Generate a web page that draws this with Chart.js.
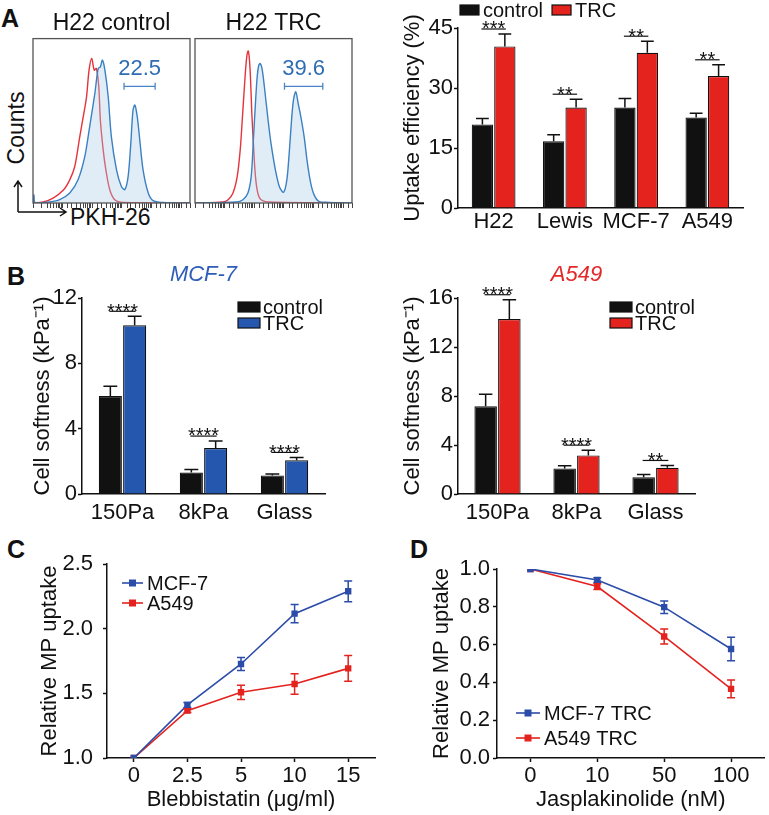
<!DOCTYPE html>
<html>
<head>
<meta charset="utf-8">
<script src="https://cdn.jsdelivr.net/npm/chart.js@4.4.0/dist/chart.umd.min.js"></script>
<style>
  body { margin: 0; background: #fff; }
  #fig { position: relative; width: 769px; height: 815px; overflow: hidden;
         font-family: "Liberation Sans", Arial, sans-serif; color: #111; }
  #fig canvas { position: absolute; }
  .lab { position: absolute; font-weight: bold; font-size: 25px; line-height: 25px; }
  .txt { position: absolute; font-size: 23px; line-height: 26px; white-space: nowrap; }
</style>
</head>
<body>
<div id="fig">
  <div class="lab" style="left:1px;top:6px">A</div>
  <div class="lab" style="left:7px;top:264px">B</div>
  <div class="lab" style="left:7px;top:537px">C</div>
  <div class="lab" style="left:410px;top:537px">D</div>

  <div class="txt" style="left:-34px;top:115px;width:100px;text-align:center;transform:rotate(-90deg)">Counts</div>
  <div class="txt" style="left:70px;top:204px">PKH-26</div>
  <svg width="769" height="815" style="position:absolute;left:0;top:0">
    <g stroke="#111" stroke-width="1.5" fill="none">
      <path d="M18 212 V181 M14 187 L18 181 L22 187"/>
      <path d="M18 212 H66 M60 208 L66 212 L60 216"/>
    </g>
  </svg>

  <canvas id="histCtrl" width="159" height="211" style="left:32px;top:0px"></canvas>
  <canvas id="histTrc" width="159" height="211" style="left:194px;top:0px"></canvas>
  <canvas id="chartUptake" width="369" height="240" style="left:400px;top:0px"></canvas>
  <canvas id="chartMcf" width="380" height="280" style="left:0px;top:250px"></canvas>
  <canvas id="chartA549" width="379" height="280" style="left:390px;top:250px"></canvas>
  <canvas id="chartBleb" width="385" height="285" style="left:0px;top:530px"></canvas>
  <canvas id="chartJasp" width="384" height="285" style="left:385px;top:530px"></canvas>
</div>

<script>
// ---- A: flow histograms (x = position across the box, y = % of box height)
const h22CtrlRedX = [0, 6.5, 12.8, 19.2, 23.4, 26.6, 29.8, 32.0, 34.1, 35.7, 37.4, 39.0, 40.4, 41.9, 42.9, 44.7, 46.4, 48.9, 52.1, 57.4, 100];
const h22CtrlRedY = [0, 0.6, 3.0, 7.7, 14.1, 22.2, 40.4, 52.5, 64.6, 80.8, 87.9, 80.8, 81.8, 70.7, 50.5, 32.3, 20.2, 8.1, 2.0, 0.3, 0];
const h22CtrlBlueX = [0, 0.6, 1.5, 10.7, 17.0, 23.4, 28.7, 33.0, 36.1, 39.4, 41.5, 42.9, 44.2, 45.8, 47.9, 49.9, 53.2, 56.3, 58.5, 60.6, 62.3, 63.7, 64.9, 66.4, 68.0, 70.1, 73.4, 76.5, 82.9, 100];
const h22CtrlBlueY = [0, 5, 0, 0.6, 2.0, 6.1, 14.1, 28.3, 46.5, 66.7, 81.8, 82.8, 86.9, 80.8, 64.6, 40.4, 20.2, 10.1, 8.1, 16.2, 36.4, 56.6, 59.6, 52.5, 38.4, 20.2, 6.1, 1.4, 0.3, 0];
const h22TrcRedX = [0, 17.9, 21.1, 24.2, 26.9, 28.8, 30.1, 31.2, 32.2, 33.1, 33.9, 34.7, 35.4, 36.2, 37.3, 38.5, 40.0, 42.1, 47.4, 100];
const h22TrcRedY = [0, 0.6, 2.0, 6.1, 16.2, 32.3, 50.5, 66.7, 80.8, 89.9, 92.5, 86.9, 74.7, 54.5, 34.3, 16.2, 6.1, 2.0, 0.6, 0];
const h22TrcBlueX = [0, 26.3, 30.5, 33.7, 35.8, 37.3, 38.5, 39.6, 40.6, 41.5, 42.7, 44.2, 46.3, 48.4, 51.2, 53.7, 56.4, 58.5, 60.0, 61.5, 62.7, 64.2, 65.7, 67.4, 69.5, 71.6, 73.7, 75.8, 78.9, 85.3, 100];
const h22TrcBlueY = [0, 0.6, 2.0, 6.1, 16.2, 40.4, 60.6, 76.8, 83.8, 84.8, 81.8, 70.7, 52.5, 36.4, 20.2, 10.1, 6.5, 14.1, 30.3, 50.5, 62.6, 67.7, 60.6, 52.5, 40.4, 24.2, 12.1, 5.1, 1.0, 0.4, 0];
const gateCtrl = [58.0, 77.8];
const gateTrc = [57.0, 81.4];
const gateLevel = 71;
const gatePct = ['22.5', '39.6'];

// ---- A: uptake efficiency bars
const cellLines = ['H22', 'Lewis', 'MCF-7', 'A549'];
const uptakeCtrl = [20.9, 16.7, 25.1, 22.6];
const uptakeCtrlErr = [1.5, 1.6, 2.3, 1.1];
const uptakeTrc = [40.4, 25.1, 38.8, 33.0];
const uptakeTrcErr = [3.1, 2.1, 2.9, 2.8];
const uptakeSig = ['***', '**', '**', '**'];

// ---- B: cell softness
const substrates = ['150Pa', '8kPa', 'Glass'];
const mcfCtrl = [6.0, 1.32, 1.14];
const mcfCtrlErr = [0.6, 0.18, 0.08];
const mcfTrc = [10.33, 2.81, 2.06];
const mcfTrcErr = [0.55, 0.43, 0.18];
const mcfSig = ['****', '****', '****'];
const a549Ctrl = [7.16, 2.09, 1.36];
const a549CtrlErr = [0.98, 0.21, 0.24];
const a549Trc = [14.29, 3.15, 2.14];
const a549TrcErr = [1.57, 0.43, 0.19];
const a549Sig = ['****', '****', '**'];

// ---- C: blebbistatin
const blebDose = ['0', '2.5', '5', '10', '15'];
const blebMcf = [1.0, 1.41, 1.727, 2.116, 2.289];
const blebMcfErr = [0, 0.02, 0.05, 0.07, 0.08];
const blebA549 = [1.0, 1.366, 1.508, 1.572, 1.693];
const blebA549Err = [0, 0.015, 0.055, 0.08, 0.1];

// ---- D: jasplakinolide
const jaspDose = ['0', '10', '50', '100'];
const jaspMcf = [1.0, 0.942, 0.798, 0.577];
const jaspMcfErr = [0, 0.012, 0.033, 0.062];
const jaspA549 = [1.0, 0.907, 0.643, 0.366];
const jaspA549Err = [0, 0.015, 0.04, 0.047];

const FONT = '"Liberation Sans", Arial, sans-serif';
const INK = '#111';
const RED = '#E4221E';
const BLUE = '#2657AE';
const LBLUE = '#2B4CA8';

Chart.defaults.font.family = FONT;
Chart.defaults.color = INK;
Chart.defaults.animation = false;
Chart.defaults.plugins.legend.display = false;
Chart.defaults.plugins.tooltip.enabled = false;

const pts = (xs, ys) => xs.map((x, i) => ({ x: x, y: ys[i] }));

// box round the histogram area
const frame = {
  id: 'frame',
  afterDraw(chart) {
    const a = chart.chartArea, ctx = chart.ctx;
    ctx.save();
    ctx.strokeStyle = '#555';
    ctx.lineWidth = 1.3;
    ctx.strokeRect(a.left, a.top, a.width, a.height);
    ctx.restore();
  }
};

// gate marker with its percentage
const gate = {
  id: 'gate',
  afterDatasetsDraw(chart, args, o) {
    const xs = chart.scales.x, ys = chart.scales.y, ctx = chart.ctx;
    const x0 = xs.getPixelForValue(o.range[0]), x1 = xs.getPixelForValue(o.range[1]);
    const y = ys.getPixelForValue(o.level);
    ctx.save();
    ctx.strokeStyle = '#4A86C5';
    ctx.lineWidth = 1.3;
    ctx.beginPath();
    ctx.moveTo(x0, y); ctx.lineTo(x1, y);
    ctx.moveTo(x0, y - 3.5); ctx.lineTo(x0, y + 3.5);
    ctx.moveTo(x1, y - 3.5); ctx.lineTo(x1, y + 3.5);
    ctx.stroke();
    ctx.fillStyle = '#2F6DB3';
    ctx.font = '22px ' + FONT;
    ctx.textAlign = 'center';
    ctx.textBaseline = 'middle';
    ctx.fillText(o.label, (x0 + x1) / 2, y - 17);
    ctx.restore();
  }
};

// error bars from dataset.errors
const errorBars = {
  id: 'errorBars',
  afterDatasetsDraw(chart, args, o) {
    const ctx = chart.ctx;
    chart.data.datasets.forEach((ds, i) => {
      if (!ds.errors) return;
      const meta = chart.getDatasetMeta(i);
      const ys = chart.scales[meta.yAxisID];
      ctx.save();
      ctx.strokeStyle = o.color || ds.borderColor;
      ctx.lineWidth = 1.5;
      meta.data.forEach((el, j) => {
        const e = ds.errors[j];
        if (!e) return;
        const v = ds.data[j];
        const top = ys.getPixelForValue(v + e);
        const bot = o.both ? ys.getPixelForValue(v - e) : el.y;
        const half = (o.both ? o.cap : el.width * o.capRatio) / 2;
        ctx.beginPath();
        ctx.moveTo(el.x, bot); ctx.lineTo(el.x, top);
        ctx.moveTo(el.x - half, top); ctx.lineTo(el.x + half, top);
        if (o.both) { ctx.moveTo(el.x - half, bot); ctx.lineTo(el.x + half, bot); }
        ctx.stroke();
      });
      ctx.restore();
    });
  }
};

// significance line + stars over each pair of bars
const sigMarks = {
  id: 'sigMarks',
  afterDatasetsDraw(chart, args, o) {
    const ctx = chart.ctx, ys = chart.scales.y;
    const d0 = chart.data.datasets[0], d1 = chart.data.datasets[1];
    const m0 = chart.getDatasetMeta(0), m1 = chart.getDatasetMeta(1);
    ctx.save();
    ctx.strokeStyle = INK;
    ctx.fillStyle = INK;
    ctx.lineWidth = 1.2;
    ctx.font = o.size + 'px ' + FONT;
    ctx.textAlign = 'center';
    ctx.textBaseline = 'alphabetic';
    o.labels.forEach((lab, i) => {
      const top = Math.max(d0.data[i] + d0.errors[i], d1.data[i] + d1.errors[i]);
      const y = ys.getPixelForValue(top) - o.gap;
      const x0 = m0.data[i].x - 1, x1 = m1.data[i].x + 1;
      ctx.beginPath(); ctx.moveTo(x0, y); ctx.lineTo(x1, y); ctx.stroke();
      ctx.fillText(lab, (x0 + x1) / 2, y + o.size * 0.32);
    });
    ctx.restore();
  }
};

// legend drawn at a fixed spot of the canvas
const panelLegend = {
  id: 'panelLegend',
  afterDraw(chart, args, o) {
    const ctx = chart.ctx;
    ctx.save();
    ctx.font = o.size + 'px ' + FONT;
    ctx.textBaseline = 'middle';
    ctx.textAlign = 'left';
    let x = o.x, y = o.y;
    chart.data.datasets.forEach(ds => {
      if (o.kind === 'box') {
        ctx.fillStyle = ds.backgroundColor;
        ctx.fillRect(x, y - o.boxH / 2, o.boxW, o.boxH);
        ctx.strokeStyle = INK; ctx.lineWidth = 1.2;
        ctx.strokeRect(x, y - o.boxH / 2, o.boxW, o.boxH);
      } else {
        ctx.strokeStyle = ds.borderColor; ctx.lineWidth = ds.borderWidth;
        ctx.beginPath(); ctx.moveTo(x, y); ctx.lineTo(x + o.boxW, y); ctx.stroke();
        ctx.fillStyle = ds.backgroundColor;
        ctx.fillRect(x + o.boxW / 2 - o.marker / 2, y - o.marker / 2, o.marker, o.marker);
      }
      ctx.fillStyle = INK;
      ctx.fillText(ds.label, x + o.boxW + o.textGap, y + 1);
      if (o.dir === 'row') x += o.boxW + o.textGap + ctx.measureText(ds.label).width + o.itemGap;
      else y += o.lineGap;
    });
    ctx.restore();
  }
};

function histChart(id, title, red, blue, range, label) {
  return new Chart(document.getElementById(id), {
    type: 'line',
    data: {
      datasets: [
        { label: 'control', data: red, borderColor: '#E5333B', borderWidth: 1.4,
          pointRadius: 0, tension: 0.3, fill: false, order: 1 },
        { label: 'TRC', data: blue, borderColor: '#3B80C2', backgroundColor: 'rgba(165,203,233,0.35)',
          borderWidth: 1.4, pointRadius: 0, tension: 0.3, fill: 'origin', order: 0 }
      ]
    },
    options: {
      responsive: false,
      layout: { padding: { left: 1, right: 1, top: 0, bottom: 0 } },
      scales: {
        x: { type: 'linear', min: 0, max: 100, display: false },
        y: { type: 'linear', min: 0, max: 100, display: false },
        xlog: {
          type: 'logarithmic', position: 'bottom', min: 1, max: 2e5,
          ticks: { display: false },
          grid: { drawOnChartArea: false, tickLength: 5, tickColor: '#444', tickWidth: 1 },
          border: { display: false },
          afterFit: s => { s.height = 8; }
        }
      },
      plugins: {
        title: { display: true, text: title, font: { size: 23, weight: 'normal' }, color: INK,
                 padding: { top: 10, bottom: 1 }, fullSize: false },
        gate: { range: range, level: gateLevel, label: label }
      }
    },
    plugins: [frame, gate]
  });
}

histChart('histCtrl', 'H22 control', pts(h22CtrlRedX, h22CtrlRedY), pts(h22CtrlBlueX, h22CtrlBlueY), gateCtrl, gatePct[0]);
histChart('histTrc', 'H22 TRC', pts(h22TrcRedX, h22TrcRedY), pts(h22TrcBlueX, h22TrcBlueY), gateTrc, gatePct[1]);

function yAxis(min, max, step, title, width, pad, fmt) {
  return {
    min: min, max: max,
    ticks: { stepSize: step, font: { size: 22 }, padding: pad, color: INK,
             callback: fmt || (v => v) },
    grid: { drawOnChartArea: false, tickLength: 4, tickWidth: 1.5, tickColor: INK },
    border: { color: INK, width: 1.5 },
    title: { display: true, text: title, font: { size: 22 }, padding: 0, color: INK },
    afterFit: s => { s.width = width; }
  };
}

function xCat(height, pad, withTicks, title) {
  const ax = {
    ticks: { font: { size: 22 }, padding: pad, color: INK, autoSkip: false, maxRotation: 0 },
    grid: { drawOnChartArea: false, drawTicks: withTicks, tickLength: 4, tickWidth: 1.5,
            tickColor: INK, offset: false },
    border: { color: INK, width: 1.5 },
    afterFit: s => { s.height = height; }
  };
  if (title) ax.title = { display: true, text: title, font: { size: 22 }, padding: { top: 0, bottom: 2 }, color: INK };
  return ax;
}

function barSet(label, data, errors, fill, catPct) {
  return { label: label, data: data, errors: errors, backgroundColor: fill, borderColor: INK,
           borderWidth: 1.2, categoryPercentage: catPct, barPercentage: 0.95 };
}

// A: uptake efficiency
new Chart(document.getElementById('chartUptake'), {
  type: 'bar',
  data: {
    labels: cellLines,
    datasets: [
      barSet('control', uptakeCtrl, uptakeCtrlErr, INK, 0.63),
      barSet('TRC', uptakeTrc, uptakeTrcErr, RED, 0.63)
    ]
  },
  options: {
    responsive: false,
    layout: { padding: { left: 0, right: 26, top: 28, bottom: 0 } },
    scales: {
      x: xCat(32, 1, false),
      y: yAxis(0, 45, 15, 'Uptake efficiency (%)', 58, 1)
    },
    plugins: {
      errorBars: { color: INK, capRatio: 0.6 },
      sigMarks: { labels: uptakeSig, gap: 5, size: 20 },
      panelLegend: { kind: 'box', dir: 'row', x: 60, y: 10, boxW: 19, boxH: 10, textGap: 4, itemGap: 9, size: 20 }
    }
  },
  plugins: [errorBars, sigMarks, panelLegend]
});

// B: cell softness
function softnessChart(id, title, titleColor, ctrl, ctrlErr, trc, trcErr, trcColor, sig, yMax, padL, yW, padR, legX) {
  return new Chart(document.getElementById(id), {
    type: 'bar',
    data: {
      labels: substrates,
      datasets: [
        barSet('control', ctrl, ctrlErr, INK, 0.6),
        barSet('TRC', trc, trcErr, trcColor, 0.6)
      ]
    },
    options: {
      responsive: false,
      layout: { padding: { left: padL, right: padR, top: 0, bottom: 0 } },
      scales: {
        x: xCat(36, 6, false),
        y: yAxis(0, yMax, 4, 'Cell softness (kPa\u207B\u00B9)', yW, 1)
      },
      plugins: {
        title: { display: true, text: title, color: titleColor, fullSize: false,
                 font: { size: 22, style: 'italic', weight: 'normal' }, padding: { top: 12, bottom: 9.6 } },
        errorBars: { color: INK, capRatio: 0.6 },
        sigMarks: { labels: sig, gap: 5, size: 20 },
        panelLegend: { kind: 'box', dir: 'col', x: legX, y: 57, boxW: 22, boxH: 10, textGap: 3, lineGap: 16, size: 20 }
      }
    },
    plugins: [errorBars, sigMarks, panelLegend]
  });
}

softnessChart('chartMcf', 'MCF-7', '#2D5DB8', mcfCtrl, mcfCtrlErr, mcfTrc, mcfTrcErr, BLUE, mcfSig, 12, 30, 52, 55, 238);
softnessChart('chartA549', 'A549', '#E4282A', a549Ctrl, a549CtrlErr, a549Trc, a549TrcErr, RED, a549Sig, 16, 10, 58, 74, 220);

// C and D: dose curves
function lineSet(label, data, errors, color) {
  return { label: label, data: data, errors: errors, borderColor: color, backgroundColor: color,
           borderWidth: 1.6, pointStyle: 'rect', pointRadius: 4.5, pointBorderWidth: 0, tension: 0 };
}

new Chart(document.getElementById('chartBleb'), {
  type: 'line',
  data: {
    labels: blebDose,
    datasets: [
      lineSet('MCF-7', blebMcf, blebMcfErr, LBLUE),
      lineSet('A549', blebA549, blebA549Err, RED)
    ]
  },
  options: {
    responsive: false,
    layout: { padding: { left: 37, right: 10, top: 34, bottom: 0 } },
    scales: {
      x: Object.assign(xCat(57, 1, true, 'Blebbistatin (\u03BCg/ml)'), { offset: true }),
      y: yAxis(1, 2.5, 0.5, 'Relative MP uptake', 70, 10, v => v.toFixed(1))
    },
    plugins: {
      errorBars: { both: true, cap: 8 },
      panelLegend: { kind: 'line', dir: 'col', x: 122, y: 53, boxW: 21, marker: 7, textGap: 4, lineGap: 20, size: 20 }
    }
  },
  plugins: [errorBars, panelLegend]
});

new Chart(document.getElementById('chartJasp'), {
  type: 'line',
  data: {
    labels: jaspDose,
    datasets: [
      lineSet('MCF-7 TRC', jaspMcf, jaspMcfErr, LBLUE),
      lineSet('A549 TRC', jaspA549, jaspA549Err, RED)
    ]
  },
  options: {
    responsive: false,
    layout: { padding: { left: 44, right: 2, top: 39, bottom: 0 } },
    scales: {
      x: Object.assign(xCat(57, 1, true, 'Jasplakinolide (nM)'), { offset: true }),
      y: yAxis(0, 1, 0.2, 'Relative MP uptake', 68, 3, v => v.toFixed(1))
    },
    plugins: {
      errorBars: { both: true, cap: 8 },
      panelLegend: { kind: 'line', dir: 'col', x: 131, y: 183, boxW: 24, marker: 7, textGap: 4, lineGap: 25, size: 20 }
    }
  },
  plugins: [errorBars, panelLegend]
});
</script>
</body>
</html>
